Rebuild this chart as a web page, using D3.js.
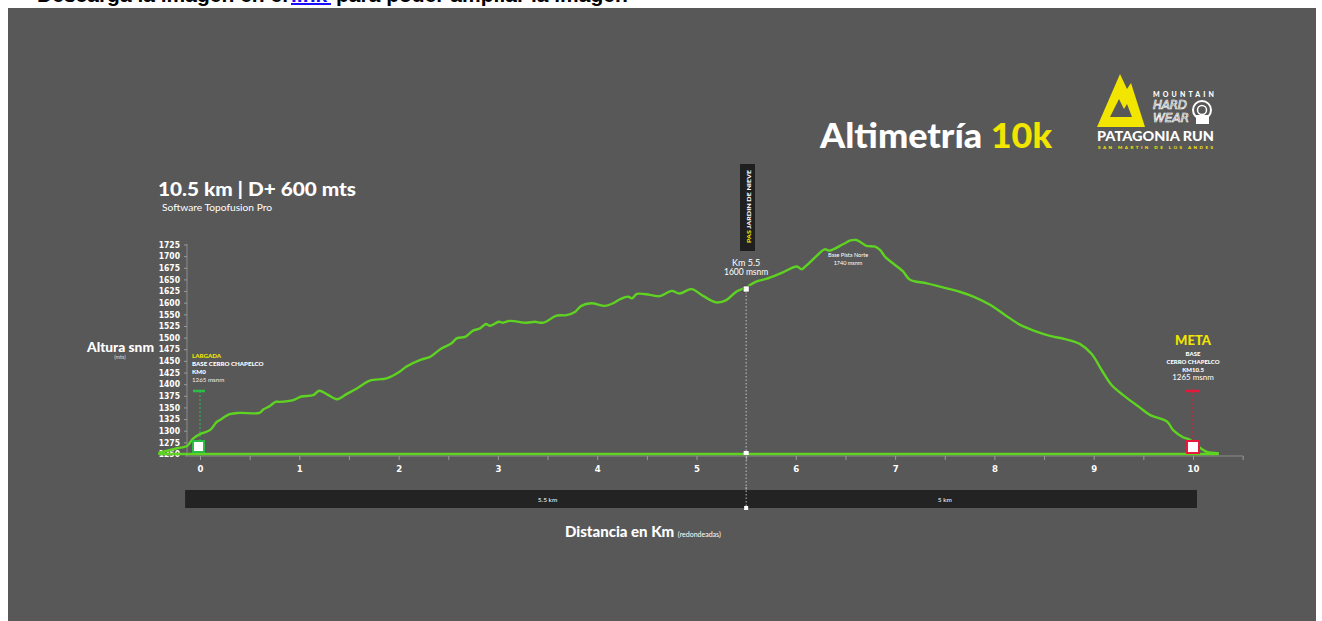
<!DOCTYPE html>
<html>
<head>
<meta charset="utf-8">
<script src="https://cdn.jsdelivr.net/npm/d3@7"></script>
<style>
  body { margin: 0; background: #fff; overflow: hidden; }
  svg { display: block; }
</style>
</head>
<body>
<svg id="chart" width="1322" height="621"></svg>
<script>
// perfil de altura (km, msnm)
var km = [-0.41, -0.23, -0.13, -0.07, 0, 0.1, 0.17, 0.2, 0.3, 0.4, 0.6, 0.64, 0.7, 0.76, 0.8, 0.94,
  1.02, 1.14, 1.2, 1.28, 1.38, 1.48, 1.58, 1.71, 1.88, 2.01, 2.08, 2.22, 2.32, 2.42, 2.53, 2.59,
  2.67, 2.75, 2.82, 2.88, 2.92, 3.01, 3.05, 3.12, 3.29, 3.37, 3.46, 3.59, 3.69, 3.78, 3.84, 3.94,
  4.08, 4.16, 4.23, 4.31, 4.35, 4.4, 4.53, 4.63, 4.75, 4.83, 4.95, 5.07, 5.2, 5.3, 5.4, 5.5,
  5.6, 5.7, 5.87, 6.01, 6.06, 6.1, 6.21, 6.29, 6.34, 6.48, 6.55, 6.61, 6.66, 6.71, 6.8, 6.85,
  6.9, 7.02, 7.08, 7.15, 7.32, 7.55, 7.65, 7.8, 7.96, 8.11, 8.26, 8.41, 8.56, 8.71, 8.86, 8.98,
  9.08, 9.18, 9.31, 9.46, 9.57, 9.74, 9.8, 9.9, 9.97, 10.07, 10.14, 10.25];
var altura = [1253, 1263, 1268, 1285, 1295, 1304, 1323, 1327, 1340, 1343, 1343, 1351, 1358, 1368, 1368, 1372,
  1380, 1383, 1393, 1385, 1374, 1386, 1398, 1416, 1421, 1436, 1448, 1463, 1470, 1487, 1500, 1512,
  1515, 1529, 1534, 1544, 1540, 1549, 1547, 1551, 1547, 1549, 1547, 1563, 1564, 1572, 1585, 1591,
  1585, 1591, 1600, 1606, 1602, 1612, 1610, 1607, 1619, 1613, 1623, 1607, 1593, 1598, 1617, 1627,
  1640, 1646, 1661, 1674, 1668, 1675, 1698, 1713, 1710, 1725, 1733, 1734, 1728, 1721, 1719, 1711,
  1696, 1674, 1663, 1644, 1636, 1623, 1617, 1605, 1587, 1564, 1542, 1528, 1517, 1510, 1499, 1476,
  1440, 1406, 1381, 1356, 1338, 1323, 1304, 1288, 1282, 1264, 1255, 1252];

// etiquetas del eje Y tal como aparecen (sin 1575)
var yTickLabels = ["1250", "1275", "1300", "1325", "1350", "1375", "1400", "1425", "1450", "1475",
  "1500", "1525", "1550", "1600", "1625", "1650", "1675", "1700", "1725"];
var xTicks = d3.range(0, 10.51, 0.5);

// tramos de la barra inferior
var tramoLabels = ["5.5 km", "5 km"];
var tramoLabelKm = [3.5, 7.5];
var corteKm = 5.5;

var svg = d3.select("#chart");
var green = "#5ed321";
var yellow = "#f2e500";

var x = d3.scaleLinear().domain([0, 10]).range([200, 1193]);
var y = d3.scaleLinear().domain([1250, 1725]).range([454, 244]);
var yLab = d3.scalePoint().domain(yTickLabels).range([454, 244.5]);

// linea de texto cortada arriba
svg.append("text").attr("x", 288).attr("y", 1.5).attr("text-anchor", "end")
  .attr("font-family", "Liberation Sans, Arial").attr("font-weight", "bold").attr("font-size", 21)
  .attr("fill", "#000").text("Descarga la imagen en el");
svg.append("text").attr("x", 291).attr("y", 1.5).attr("font-family", "Liberation Sans, Arial")
  .attr("font-weight", "bold").attr("font-size", 21).attr("fill", "#1a0dff").text("link");
svg.append("rect").attr("x", 291).attr("y", 3).attr("width", 40).attr("height", 2).attr("fill", "#1a0dff");
svg.append("text").attr("x", 336).attr("y", 1.5).attr("font-family", "Liberation Sans, Arial")
  .attr("font-weight", "bold").attr("font-size", 21).attr("fill", "#000").text("para poder ampliar la imagen");

// panel gris
svg.append("rect").attr("x", 8).attr("y", 8).attr("width", 1308).attr("height", 613).attr("fill", "#585858");

var font = "Lato, 'Open Sans', sans-serif";

// titulo
var t = svg.append("text").attr("x", 820).attr("y", 148).attr("font-family", font)
  .attr("font-weight", 900).attr("font-size", 35)
  .attr("textLength", 232).attr("lengthAdjust", "spacingAndGlyphs");
t.append("tspan").attr("fill", "#fff").text("Altimetría ");
t.append("tspan").attr("fill", yellow).text("10k");

// logo
var logo = svg.append("g");
logo.append("path")
  .attr("d", "M1097,127 L1120,74 L1127,89 L1131,83 L1145,127 Z M1110,117 L1119,99 L1124,109 L1127,104 L1132,117 Z")
  .attr("fill", yellow).attr("fill-rule", "evenodd");
logo.append("text").attr("x", 1153).attr("y", 97).attr("font-family", font).attr("font-weight", 900)
  .attr("font-size", 7).attr("fill", "#fff").attr("textLength", 61).text("MOUNTAIN");
logo.append("text").attr("x", 1153).attr("y", 109).attr("font-family", "DejaVu Sans, sans-serif")
  .attr("font-style", "italic").attr("font-size", 12).attr("fill", "none").attr("stroke", "#fff")
  .attr("stroke-width", 0.7).attr("textLength", 34).text("HARD");
logo.append("text").attr("x", 1153).attr("y", 122).attr("font-family", "DejaVu Sans, sans-serif")
  .attr("font-style", "italic").attr("font-size", 12).attr("fill", "none").attr("stroke", "#fff")
  .attr("stroke-width", 0.7).attr("textLength", 36).text("WEAR");
logo.append("circle").attr("cx", 1202).attr("cy", 110).attr("r", 9).attr("fill", "none")
  .attr("stroke", "#fff").attr("stroke-width", 2);
logo.append("circle").attr("cx", 1202).attr("cy", 110).attr("r", 4.5).attr("fill", "none")
  .attr("stroke", "#fff").attr("stroke-width", 1.5);
logo.append("rect").attr("x", 1196).attr("y", 115).attr("width", 13).attr("height", 9).attr("fill", "#fff");
logo.append("text").attr("x", 1097).attr("y", 141).attr("font-family", font).attr("font-weight", 900)
  .attr("font-size", 12.5).attr("fill", "#fff").attr("textLength", 117)
  .attr("lengthAdjust", "spacingAndGlyphs").text("PATAGONIA RUN");
logo.append("text").attr("x", 1098).attr("y", 149).attr("font-family", font).attr("font-weight", 900)
  .attr("font-size", 4.5).attr("fill", yellow).attr("textLength", 115).text("SAN MARTIN DE LOS ANDES");

// subtitulos
svg.append("text").attr("x", 158).attr("y", 196).attr("font-family", font).attr("font-weight", 900)
  .attr("font-size", 19).attr("fill", "#fff").attr("textLength", 198)
  .attr("lengthAdjust", "spacingAndGlyphs").text("10.5 km | D+ 600 mts");
svg.append("text").attr("x", 162).attr("y", 211).attr("font-family", font)
  .attr("font-size", 10).attr("fill", "#fff").attr("textLength", 110)
  .attr("lengthAdjust", "spacingAndGlyphs").text("Software Topofusion Pro");

// eje Y
svg.append("line").attr("x1", 187).attr("x2", 187).attr("y1", 244).attr("y2", 456)
  .attr("stroke", "#8c8c8c").attr("stroke-width", 1);
var yAxis = svg.append("g").attr("transform", "translate(187,0)")
  .call(d3.axisLeft(yLab).tickSize(3).tickPadding(4));
yAxis.select(".domain").remove();
yAxis.selectAll(".tick line").attr("stroke", "#9a9a9a");
yAxis.selectAll(".tick text").attr("fill", "#fff").attr("font-family", "DejaVu Sans Condensed, DejaVu Sans")
  .attr("font-weight", "bold").attr("font-size", 8.5);

svg.append("text").attr("x", 87).attr("y", 352).attr("font-family", font).attr("font-weight", 900)
  .attr("font-size", 13).attr("fill", "#fff").attr("textLength", 67)
  .attr("lengthAdjust", "spacingAndGlyphs").text("Altura snm");
svg.append("text").attr("x", 120).attr("y", 359).attr("text-anchor", "middle").attr("font-family", font)
  .attr("font-size", 5.5).attr("fill", "#ddd").text("(mts)");

// eje X
svg.append("line").attr("x1", 185).attr("x2", 1243).attr("y1", 456).attr("y2", 456)
  .attr("stroke", "#8c8c8c").attr("stroke-width", 1.2);
var xAxis = svg.append("g").attr("transform", "translate(0,456)")
  .call(d3.axisBottom(x).tickValues(xTicks).tickSize(4).tickPadding(5)
    .tickFormat(function(d) { return d % 1 === 0 ? d : ""; }));
xAxis.select(".domain").remove();
xAxis.selectAll(".tick line").attr("stroke", "#9a9a9a");
xAxis.selectAll(".tick text").attr("fill", "#fff").attr("font-family", "DejaVu Sans Condensed, DejaVu Sans")
  .attr("font-weight", "bold").attr("font-size", 9.5);

// perfil
var perfil = km.map(function(d, i) { return { km: d, alt: altura[i] }; });
var area = d3.area()
  .x(function(d) { return x(d.km); })
  .y0(y(1250))
  .y1(function(d) { return y(d.alt); })
  .curve(d3.curveCatmullRom.alpha(0.5));
svg.append("path").datum(perfil).attr("d", area)
  .attr("fill", "none").attr("stroke", green).attr("stroke-width", 2.4).attr("stroke-linejoin", "round");

// largada
var lg = svg.append("g");
lg.append("line").attr("x1", x(0)).attr("x2", x(0)).attr("y1", 391).attr("y2", 441)
  .attr("stroke", "#2dbd45").attr("stroke-width", 1).attr("stroke-dasharray", "2,2");
lg.append("line").attr("x1", x(0) - 7).attr("x2", x(0) + 5).attr("y1", 391).attr("y2", 391)
  .attr("stroke", "#2dbd45").attr("stroke-width", 2.5);
lg.append("rect").attr("x", x(0) - 7).attr("y", 441).attr("width", 11).attr("height", 11)
  .attr("fill", "#fff").attr("stroke", "#2dbd45").attr("stroke-width", 2);
var lgText = [["LARGADA", yellow, 900, 358], ["BASE CERRO CHAPELCO", "#fff", 900, 365.5],
  ["KM0", "#fff", 900, 374], ["1265 msnm", "#eee", 400, 382]];
lgText.forEach(function(d) {
  lg.append("text").attr("x", 192).attr("y", d[3]).attr("font-family", font).attr("font-weight", d[2])
    .attr("font-size", 6.2).attr("fill", d[1]).text(d[0]);
});

// meta
var mt = svg.append("g");
var red = "#e8183c";
mt.append("line").attr("x1", x(10)).attr("x2", x(10)).attr("y1", 391).attr("y2", 441)
  .attr("stroke", red).attr("stroke-width", 1).attr("stroke-dasharray", "2,2");
mt.append("line").attr("x1", x(10) - 7).attr("x2", x(10) + 7).attr("y1", 391).attr("y2", 391)
  .attr("stroke", red).attr("stroke-width", 2.5);
mt.append("rect").attr("x", x(10) - 6).attr("y", 441).attr("width", 12).attr("height", 12)
  .attr("fill", "#fff").attr("stroke", red).attr("stroke-width", 2);
mt.append("text").attr("x", x(10)).attr("y", 345).attr("text-anchor", "middle").attr("font-family", font)
  .attr("font-weight", 900).attr("font-size", 13).attr("fill", yellow).text("META");
var mtText = [["BASE", 900, 6, 356], ["CERRO CHAPELCO", 900, 6, 364], ["KM10.5", 900, 6, 372],
  ["1265 msnm", 400, 8, 380]];
mtText.forEach(function(d) {
  mt.append("text").attr("x", x(10)).attr("y", d[3]).attr("text-anchor", "middle").attr("font-family", font)
    .attr("font-weight", d[1]).attr("font-size", d[2]).attr("fill", "#fff").text(d[0]);
});

// km 5.5 - PAS Jardin de Nieve
var pas = svg.append("g");
var xc = x(corteKm);
pas.append("line").attr("x1", xc).attr("x2", xc).attr("y1", 292).attr("y2", 509)
  .attr("stroke", "#ddd").attr("stroke-width", 0.8).attr("stroke-dasharray", "1.5,2");
pas.append("rect").attr("x", 740).attr("y", 164).attr("width", 15).attr("height", 87).attr("fill", "#1f1f1f");
var pt = pas.append("text").attr("transform", "translate(751,243) rotate(-90)")
  .attr("font-family", font).attr("font-weight", 900).attr("font-size", 6.3)
  .attr("textLength", 73).attr("lengthAdjust", "spacingAndGlyphs");
pt.append("tspan").attr("fill", yellow).text("PAS ");
pt.append("tspan").attr("fill", "#fff").text("JARDIN DE NIEVE");
pas.append("text").attr("x", xc).attr("y", 266).attr("text-anchor", "middle").attr("font-family", font)
  .attr("font-size", 9).attr("fill", "#fff").text("Km 5.5");
pas.append("text").attr("x", xc).attr("y", 274.5).attr("text-anchor", "middle").attr("font-family", font)
  .attr("font-size", 8.5).attr("fill", "#fff").text("1600 msnm");
pas.append("rect").attr("x", xc - 3).attr("y", 286).attr("width", 6).attr("height", 6).attr("fill", "#fff")
  .attr("stroke", "#333").attr("stroke-width", 0.6);
pas.append("rect").attr("x", xc - 2.5).attr("y", 451).attr("width", 5).attr("height", 4).attr("fill", "#fff");

// cumbre
svg.append("text").attr("x", 848).attr("y", 257).attr("text-anchor", "middle").attr("font-family", font)
  .attr("font-size", 5.5).attr("fill", "#fff").text("Base Pista Norte");
svg.append("text").attr("x", 848).attr("y", 265).attr("text-anchor", "middle").attr("font-family", font)
  .attr("font-size", 5.5).attr("fill", "#fff").text("1740 msnm");

// barra de tramos
svg.append("rect").attr("x", x(-0.15)).attr("y", 490).attr("width", x(10.04) - x(-0.15)).attr("height", 18)
  .attr("fill", "#232323");
svg.append("line").attr("x1", xc).attr("x2", xc).attr("y1", 487).attr("y2", 508)
  .attr("stroke", "#ddd").attr("stroke-width", 0.8).attr("stroke-dasharray", "1.5,2");
svg.append("rect").attr("x", xc - 2).attr("y", 506).attr("width", 4).attr("height", 4).attr("fill", "#fff");
svg.selectAll(".tramo").data(tramoLabels).enter().append("text")
  .attr("class", "tramo")
  .attr("x", function(d, i) { return x(tramoLabelKm[i]); })
  .attr("y", 501.5).attr("text-anchor", "middle").attr("font-family", font)
  .attr("font-size", 6.5).attr("fill", "#fff").text(String);

// titulo eje X
var xt = svg.append("text").attr("x", 565).attr("y", 537).attr("font-family", font).attr("fill", "#fff");
xt.append("tspan").attr("font-weight", 900).attr("font-size", 15).text("Distancia en Km ");
xt.append("tspan").attr("font-size", 7).text("(redondeadas)");
</script>
</body>
</html>
